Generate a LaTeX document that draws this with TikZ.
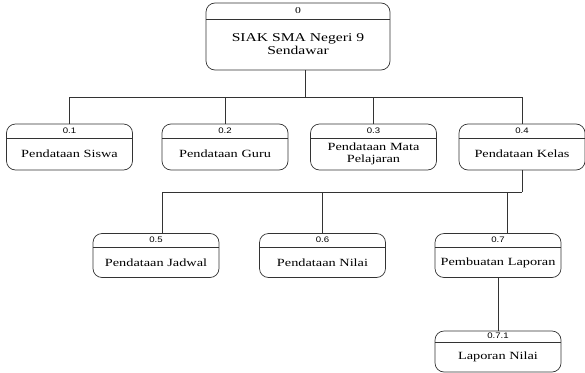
\documentclass[tikz,border=0pt]{standalone}
\usepackage{fontspec}
\setmainfont{Liberation Serif}[FakeStretch=1.3]
\setsansfont{Liberation Sans}[FakeStretch=1.2]
\usetikzlibrary{positioning}
\tikzset{
  proc/.style={draw=black!80, line width=0.7pt, rounded corners=9pt, minimum width=126pt, minimum height=46pt,
    text width=118pt, align=center, font=\fontsize{11}{12}\selectfont,
    execute at begin node={\rule{0pt}{\dimexpr#1+8pt\relax}},
    path picture={\draw [black!80, line width=0.7pt] ([yshift=-#1]path picture bounding box.north west) -- ([yshift=-#1]path picture bounding box.north east);}},
  proc/.default=14pt,
  num/.style={font=\sffamily\fontsize{8}{9}\selectfont, anchor=center, yshift=-7pt, inner sep=0pt}
}
\tikzstyle{line} = [draw=black!80, line width=0.8pt]

\begin{document}
\begin{tikzpicture}[x=1pt, y=-1pt]
\useasboundingbox (0,0) rectangle (585,372);

% Root
\node (root) [proc=16pt, minimum width=184pt, minimum height=67pt, text width=176pt, font=\fontsize{12}{13}\selectfont,
  label={[num, font=\fontsize{9}{10}\selectfont, yshift=-1pt]north:0}] at (298,36.5) {SIAK SMA Negeri 9\\Sendawar};

% First level
\node (p1) [proc, label={[num]north:0.1}] at (69.5,147) {Pendataan Siswa};
\node (p2) [proc, label={[num]north:0.2}] at (225,147) {Pendataan Guru};
\node (p3) [proc, label={[num]north:0.3}] at (373.5,147) {Pendataan Mata\\Pelajaran};
\node (p4) [proc, label={[num]north:0.4}] at (522,147) {Pendataan Kelas};

% Second level
\node (p5) [proc, minimum height=44pt, label={[num]north:0.5}] at (156,255.5) {Pendataan Jadwal};
\node (p6) [proc, minimum height=44pt, label={[num]north:0.6}] at (322.5,255.5) {Pendataan Nilai};
\node (p7) [proc, minimum height=44pt, label={[num]north:0.7}] at (498,255.5) {Pembuatan Laporan};

% Third level
\node (p71) [proc=11pt, minimum height=41pt, label={[num, yshift=1.5pt]north:0.7.1}] at (498,351.5) {Laporan Nilai};

% Connections
\draw [line] ([xshift=7pt]root.south) -- ++(0,27) coordinate (bus1);
\draw [line] (p1.north) |- (bus1) -| (p4.north);
\draw [line] (bus1 -| p2.north) -- (p2.north);
\draw [line] (bus1 -| p3.north) -- (p3.north);
\draw [line] (p4.south) -- ++(0,22) coordinate (bus2);
\draw [line] (bus2) -| ([xshift=6pt]p5.north);
\draw [line] (bus2 -| p6.north) -- (p6.north);
\draw [line] ([xshift=9pt]p7.north) -- ([xshift=9pt]p7.north |- bus2);
\draw [line] (p7.south) -- (p71.north);

\end{tikzpicture}
\end{document}
